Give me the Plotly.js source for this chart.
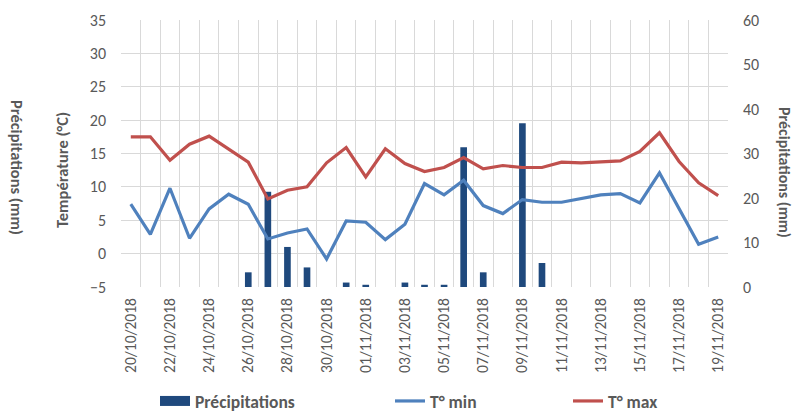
<!DOCTYPE html>
<html>
<head>
<meta charset="utf-8">
<script src="https://cdn.plot.ly/plotly-3.0.1.min.js"></script>
<style>html,body{margin:0;padding:0;background:#fff;}</style>
</head>
<body>
<div id="chart" style="width:794px;height:414px;"></div>
<script>
var dates = ["20/10/2018","21/10/2018","22/10/2018","23/10/2018","24/10/2018","25/10/2018","26/10/2018","27/10/2018","28/10/2018","29/10/2018","30/10/2018","31/10/2018","01/11/2018","02/11/2018","03/11/2018","04/11/2018","05/11/2018","06/11/2018","07/11/2018","08/11/2018","09/11/2018","10/11/2018","11/11/2018","12/11/2018","13/11/2018","14/11/2018","15/11/2018","16/11/2018","17/11/2018","18/11/2018","19/11/2018"];
var precipitations = [0,0,0,0,0,0,3.3,21.4,9.0,4.4,0,1.0,0.5,0,1.0,0.5,0.5,31.4,3.3,0,36.8,5.4,0,0,0,0,0,0,0,0,0];
var tMin = [7.4,2.9,9.8,2.3,6.7,8.9,7.4,2.2,3.1,3.7,-0.8,4.9,4.7,2.1,4.4,10.5,8.8,11.0,7.2,6.0,8.1,7.7,7.7,8.3,8.8,9.0,7.6,12.1,6.7,1.4,2.5];
var tMax = [17.5,17.5,14.0,16.4,17.6,15.6,13.7,8.2,9.5,10.0,13.6,15.9,11.5,15.7,13.5,12.3,12.9,14.4,12.7,13.2,12.9,12.9,13.7,13.6,13.7,13.9,15.3,18.1,13.8,10.6,8.7];

var idx = dates.map(function(d,i){return i;});
var tickIdx = idx.filter(function(i){return i%2===0;});
var tickTxt = tickIdx.map(function(i){return dates[i];});

var FONT = "Carlito, Lato, 'Open Sans', sans-serif";
var GREY = "#595959";

var traces = [
  {type:'bar', x: idx, y: precipitations, yaxis:'y', width:0.34,
   marker:{color:'#1F497D'}, showlegend:false, hoverinfo:'y'},
  {type:'scatter', mode:'lines', x:[null], y:[null], yaxis:'y', name:'Précipitations',
   line:{color:'#1F497D', width:10}, legend:'legend', showlegend:true},
  {type:'scatter', mode:'lines', x: idx, y: tMin, yaxis:'y2', name:'T° min',
   line:{color:'#4F81BD', width:3.2}, legend:'legend2'},
  {type:'scatter', mode:'lines', x: idx, y: tMax, yaxis:'y2', name:'T° max',
   line:{color:'#C0504D', width:3.2}, legend:'legend3'}
];

function px(X){return (X-121)/607;}
function py(Y){return (287.5-Y)/268;}

var legFont = {family:FONT, size:17.5, color:GREY, weight:'bold'};

var layout = {
  width:794, height:414,
  margin:{l:121, r:66, t:19.5, b:126.5, autoexpand:false},
  paper_bgcolor:'#ffffff', plot_bgcolor:'#ffffff',
  font:{family:FONT, color:GREY},
  xaxis:{range:[-0.5,30.5], tickmode:'array', tickvals:tickIdx, ticktext:tickTxt, automargin:false,
    tickangle:-90, tickfont:{family:FONT, size:15.5, color:GREY},
    showgrid:false, zeroline:false, showline:false, ticks:'', ticklabelstandoff:7,
    minor:{tickmode:'linear', tick0:-0.5, dtick:1, showgrid:true, gridcolor:'#D9D9D9', gridwidth:1, ticks:''}},
  yaxis:{range:[0,60], dtick:10, side:'right', showgrid:false, zeroline:false, showline:false, automargin:false,
    ticks:'', tickfont:{family:FONT, size:16, color:GREY}, ticklabelstandoff:14},
  yaxis2:{range:[-5,35], dtick:5, overlaying:'y', side:'left', showgrid:true, gridcolor:'#D9D9D9', automargin:false,
    gridwidth:1, zeroline:false, showline:false, ticks:'', tickfont:{family:FONT, size:16, color:GREY},
    ticklabelstandoff:14},
  showlegend:true,
  legend:{orientation:'h', x:px(155), xanchor:'left', y:py(402), yanchor:'middle', font:legFont, bgcolor:'rgba(0,0,0,0)'},
  legend2:{orientation:'h', x:px(390), xanchor:'left', y:py(402), yanchor:'middle', font:legFont, bgcolor:'rgba(0,0,0,0)'},
  legend3:{orientation:'h', x:px(568), xanchor:'left', y:py(402), yanchor:'middle', font:legFont, bgcolor:'rgba(0,0,0,0)'},
  annotations:[
    {text:'Précipitations (mm)', xref:'paper', yref:'paper', x:px(17), y:py(168), textangle:90,
     showarrow:false, xanchor:'center', yanchor:'middle', font:{family:FONT, size:16.5, color:GREY, weight:'bold'}},
    {text:'Température (°C)', xref:'paper', yref:'paper', x:px(62), y:py(170), textangle:-90,
     showarrow:false, xanchor:'center', yanchor:'middle', font:{family:FONT, size:16.5, color:GREY, weight:'bold'}},
    {text:'Précipitations (mm)', xref:'paper', yref:'paper', x:px(784), y:py(172), textangle:90,
     showarrow:false, xanchor:'center', yanchor:'middle', font:{family:FONT, size:16, color:GREY, weight:'bold'}}
  ]
};

Plotly.newPlot('chart', traces, layout, {displayModeBar:false, staticPlot:true});
</script>
</body>
</html>
